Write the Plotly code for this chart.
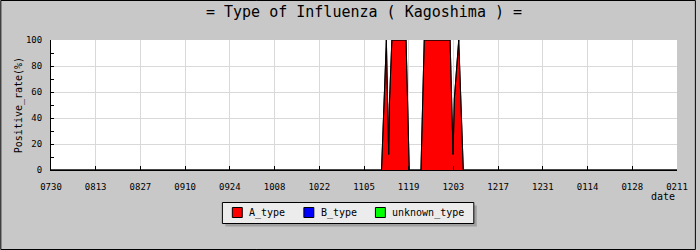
import plotly.graph_objects as go

# ---- data ----
dates = [
    "2023-07-30 00:00", "2023-11-10 11:40", "2023-11-12 00:10", "2023-11-12 17:20",
    "2023-11-12 22:40", "2023-11-13 17:20", "2023-11-18 04:00", "2023-11-19 04:00",
    "2023-11-22 20:00", "2023-11-23 20:40", "2023-12-01 22:50", "2023-12-02 21:20",
    "2023-12-03 07:00", "2023-12-04 15:50", "2023-12-06 02:10", "2024-02-11 00:00",
]
a_type = [0, 0, 100, 12, 50, 100, 100, 0, 0, 100, 100, 12, 55, 100, 0, 0]
b_type = [0] * len(dates)
unknown_type = [0] * len(dates)

series_names = ["A_type", "B_type", "unknown_type"]
series_colors = ["#ff0000", "#0000ff", "#00ff00"]
series_values = [a_type, b_type, unknown_type]

title_text = "= Type of Influenza ( Kagoshima ) ="
y_title = "Positive_rate(%)"
x_title = "date"

MONO = "DejaVu Sans Mono"

fig = go.Figure()
for i, (name, col, vals) in enumerate(zip(series_names, series_colors, series_values)):
    fig.add_trace(go.Scatter(
        x=dates, y=vals, mode="lines", stackgroup="one",
        line=dict(color="black", width=1.0 if i == 0 else 0.5, shape="linear"),
        fillcolor=col, showlegend=False, hoverinfo="skip", name=name,
    ))

L, R, T, B = 51, 19, 40, 80
W, H = 700, 250
pw, ph = W - L - R, H - T - B

def px_x(p):
    return (p - L) / pw

def px_y(p):
    return (H - B - p) / ph

fig.update_layout(
    width=W, height=H,
    margin=dict(l=L, r=R, t=T, b=B, pad=0),
    paper_bgcolor="#c8c8c8", plot_bgcolor="white",
    font=dict(family=MONO, size=10, color="black"),
    title=dict(text=title_text, x=0.5, xanchor="center", xref="paper",
               y=1 - 12 / H, yanchor="middle",
               font=dict(family=MONO, size=15, color="black")),
    showlegend=False,
    xaxis=dict(
        type="date", range=["2023-07-30", "2024-02-11"],
        tick0="2023-07-30", dtick=14 * 86400000, tickformat="%m%d",
        ticks="inside", ticklen=4, tickcolor="black",
        showgrid=True, gridcolor="#d9d9d9", gridwidth=1,
        showline=True, linecolor="black", linewidth=1,
        zeroline=False, ticklabelstandoff=8,
        tickfont=dict(family=MONO, size=9, color="black"),
    ),
    yaxis=dict(
        range=[0, 100], tick0=0, dtick=20,
        ticks="inside", ticklen=3, tickcolor="black",
        minor=dict(dtick=10, ticks="inside", ticklen=3, tickcolor="black", showgrid=False),
        showgrid=True, gridcolor="#d9d9d9", gridwidth=1,
        showline=True, linecolor="black", linewidth=1,
        zeroline=False, ticklabelstandoff=6,
        tickfont=dict(family=MONO, size=9, color="black"),
    ),
)

fig.add_annotation(text=y_title, textangle=-90, xref="paper", yref="paper",
                   x=px_x(19), y=0.5, showarrow=False, xanchor="center", yanchor="middle",
                   font=dict(family=MONO, size=10, color="black"))
fig.add_annotation(text=x_title, xref="paper", yref="paper",
                   x=px_x(667), y=px_y(196), showarrow=False, xanchor="center", yanchor="middle",
                   font=dict(family=MONO, size=10, color="black"))

# outer frame
fig.add_shape(type="rect", xref="paper", yref="paper",
              x0=px_x(0.5), x1=px_x(699.5), y0=px_y(249.5), y1=px_y(0.5),
              line=dict(color="black", width=1), fillcolor="rgba(0,0,0,0)", layer="above")

# ---- hand-built legend box (as in the reference) ----
box_l, box_r, box_t, box_b = 223.5, 476.5, 202.5, 223.5
fig.add_shape(type="rect", xref="paper", yref="paper",
              x0=px_x(box_l + 3), x1=px_x(box_r + 3), y0=px_y(box_b + 3), y1=px_y(box_t + 3),
              line=dict(width=0), fillcolor="#a0a0a0", layer="above")
fig.add_shape(type="rect", xref="paper", yref="paper",
              x0=px_x(box_l), x1=px_x(box_r), y0=px_y(box_b), y1=px_y(box_t),
              line=dict(color="black", width=1), fillcolor="#ececec", layer="above")
sq_left = [233.5, 305.5, 377.5]
for name, col, sx in zip(series_names, series_colors, sq_left):
    fig.add_shape(type="rect", xref="paper", yref="paper",
                  x0=px_x(sx), x1=px_x(sx + 10), y0=px_y(217.5), y1=px_y(207.5),
                  line=dict(color="black", width=1), fillcolor=col, layer="above")
    fig.add_annotation(text=name, xref="paper", yref="paper",
                       x=px_x(sx + 15), y=px_y(213), showarrow=False,
                       xanchor="left", yanchor="middle",
                       font=dict(family=MONO, size=10, color="black"))

fig.write_html("out.html")
